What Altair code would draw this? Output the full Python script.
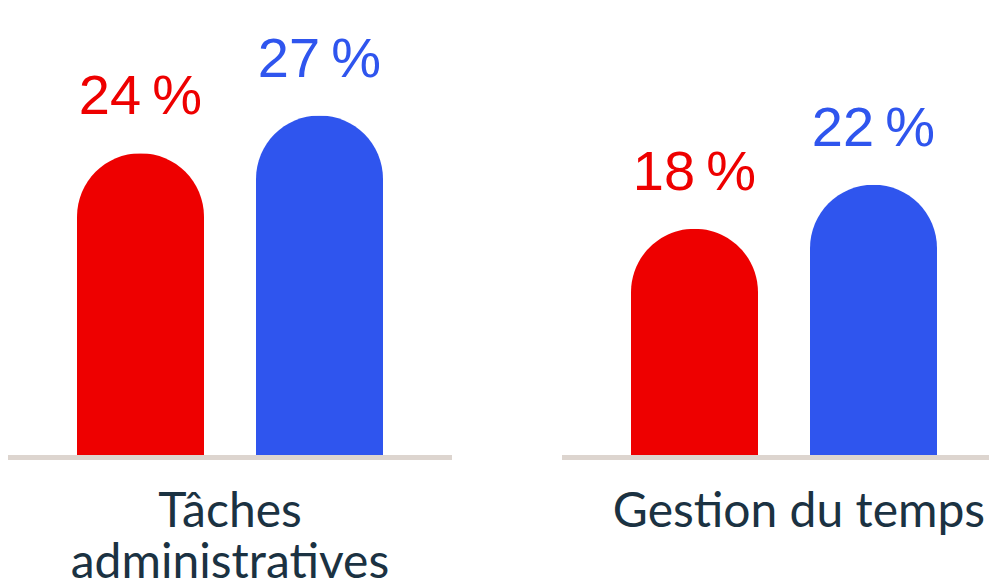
import altair as alt
import pandas as pd

categories = ["Tâches administratives", "Gestion du temps"]
series = ["Série 1", "Série 2"]
values_s1 = [24, 18]
values_s2 = [27, 21.5]
labels_s1 = ["24\u2009%", "18\u2009%"]
labels_s2 = ["27\u2009%", "22\u2009%"]
colors = ["#ee0000", "#2f55ee"]

rows = []
for i, c in enumerate(categories):
    rows.append({"categorie": c, "serie": series[0], "valeur": values_s1[i], "texte": labels_s1[i]})
    rows.append({"categorie": c, "serie": series[1], "valeur": values_s2[i], "texte": labels_s2[i]})
df = pd.DataFrame(rows)
base_df = pd.DataFrame({"categorie": categories})

H = 447
x_scale = alt.Scale(domain=categories, range=[0, 998], paddingInner=110 / 554, paddingOuter=0)
xo_scale = alt.Scale(domain=series, paddingInner=52 / 179, paddingOuter=69 / 179)
y_scale = alt.Scale(domain=[0, 35.56], nice=False, zero=True)
color_scale = alt.Scale(domain=series, range=colors)

x_enc = alt.X(
    "categorie:N",
    scale=x_scale,
    sort=categories,
    axis=alt.Axis(
        title=None,
        domain=False,
        ticks=False,
        labelFontSize=48,
        labelFont="Lato",
        labelColor="#1b3242",
        labelPadding=33,
        labelLimit=0,
        labelLineHeight=51,
        labelAngle=0,
        labelOverlap=False,
        labelOffset={"condition": {"test": "datum.label == 'Gestion du temps'", "value": 15}, "value": 0},
        labelExpr="indexof(datum.label, 'Tâches') == 0 ? split(datum.label, ' ') : datum.label",
    ),
)

bars = alt.Chart(df).mark_bar(
    cornerRadiusTopLeft=63.5, cornerRadiusTopRight=63.5
).encode(
    x=x_enc,
    xOffset=alt.XOffset("serie:N", scale=xo_scale, sort=series),
    y=alt.Y("valeur:Q", scale=y_scale, axis=None),
    color=alt.Color("serie:N", scale=color_scale, legend=None),
)

texts = alt.Chart(df).mark_text(
    font="Liberation Sans", fontSize=56, baseline="alphabetic", dy=-39, align="center"
).encode(
    x=alt.X("categorie:N", scale=x_scale, sort=categories),
    xOffset=alt.XOffset("serie:N", scale=xo_scale, sort=series),
    y=alt.Y("valeur:Q", scale=y_scale),
    text="texte:N",
    color=alt.Color("serie:N", scale=color_scale, legend=None),
)

baseline = alt.Chart(base_df).mark_rect(color="#ddd5cf").encode(
    x=alt.X("categorie:N", scale=x_scale, sort=categories),
    y=alt.value(H),
    y2=alt.value(H + 5),
)

chart = alt.layer(bars, baseline, texts).properties(
    width=981,
    height=H,
    background="white",
    autosize=alt.AutoSizeParams(type="none"),
    padding={"left": 0, "top": 0, "right": 0, "bottom": 130},
).configure_view(stroke="transparent", strokeWidth=0)

chart.save("out.html", embed_options={"renderer": "svg", "actions": False})
